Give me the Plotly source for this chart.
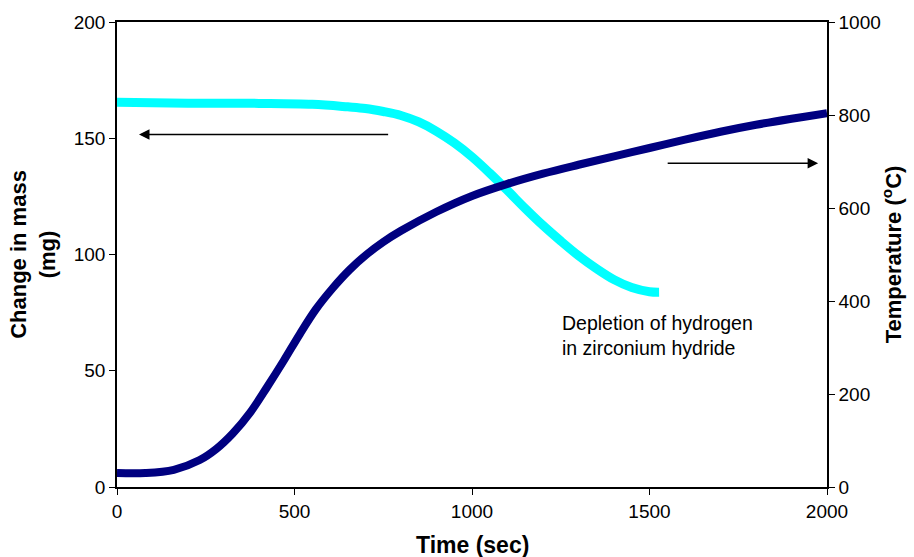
import plotly.graph_objects as go

# Mass change (left axis, mg)
mass_time = [0, 200, 400, 550, 650, 700, 750, 800, 850, 900, 950, 1000, 1050, 1100, 1150, 1200, 1250, 1300, 1350, 1400, 1450, 1500, 1527]
mass_mg = [165.5, 165.1, 165.0, 164.6, 163.5, 162.8, 161.5, 159.8, 157.0, 153.0, 148.0, 142.0, 135.0, 127.5, 119.8, 112.5, 105.8, 99.5, 94.0, 89.2, 85.8, 84.0, 83.8]

# Temperature (right axis, deg C)
temp_time = [0, 80, 160, 233, 280, 326, 375, 422, 470, 515, 560, 608, 655, 703, 750, 800, 900, 1000, 1100, 1200, 1300, 1400, 1500, 1600, 1700, 1800, 1900, 2000]
temp_c = [30, 30, 37, 58, 82, 115, 160, 214, 272, 329, 382, 428, 467, 500, 527, 551, 592, 626, 652, 674, 693, 711, 729, 747, 764, 779, 792, 804]

x_ticks = [0, 500, 1000, 1500, 2000]
y_ticks = [0, 50, 100, 150, 200]
y2_ticks = [0, 200, 400, 600, 800, 1000]

fig = go.Figure()
fig.add_trace(go.Scatter(x=temp_time, y=temp_c, yaxis="y2", mode="lines",
                         line=dict(color="#000080", width=8, shape="spline", smoothing=1.0), showlegend=False))
fig.add_trace(go.Scatter(x=mass_time, y=mass_mg, mode="lines",
                         line=dict(color="#00FFFF", width=9, shape="spline", smoothing=1.0), showlegend=False))

fig.update_layout(
    width=914, height=557,
    margin=dict(l=117, r=86, t=19, b=70),
    plot_bgcolor="white", paper_bgcolor="white",
    font=dict(family="Arial, Liberation Sans, sans-serif", size=19, color="black"),
    xaxis=dict(range=[0, 2000], tickvals=x_ticks, showline=True, linecolor="black", linewidth=1.5,
               mirror=True, ticks="outside", ticklen=6, tickcolor="black", showgrid=False, zeroline=False,
               automargin=False),
    yaxis=dict(range=[0, 200], tickvals=y_ticks, showline=True, linecolor="black", linewidth=1.5,
               ticks="outside", ticklen=6, tickcolor="black", showgrid=False, zeroline=False,
               title=dict(text="<b>Change in mass<br>(mg)</b>", font=dict(size=22), standoff=12)),
    yaxis2=dict(range=[0, 1000], tickvals=y2_ticks, overlaying="y", side="right", showline=True,
                linecolor="black", linewidth=1.5, ticks="outside", ticklen=6, tickcolor="black",
                showgrid=False, zeroline=False,
                title=dict(text="<b>Temperature (<sup>o</sup>C)</b>", font=dict(size=22), standoff=6)),
    annotations=[
        dict(x=0.5, y=-0.124, xref="paper", yref="paper", xanchor="center", yanchor="middle",
             showarrow=False, text="<b>Time (sec)</b>", font=dict(size=23)),
        dict(x=62, y=151.6, xref="x", yref="y", ax=768, ay=151.6, axref="x", ayref="y",
             showarrow=True, arrowhead=2, arrowsize=1.4, arrowwidth=1.5, arrowcolor="black", text=""),
        dict(x=1975, y=139.3, xref="x", yref="y", ax=1547, ay=139.3, axref="x", ayref="y",
             showarrow=True, arrowhead=2, arrowsize=1.4, arrowwidth=1.5, arrowcolor="black", text=""),
        dict(x=1249, y=65.2, xref="x", yref="y", xanchor="left", yanchor="middle", align="left",
             showarrow=False, text="Depletion of hydrogen<br>in zirconium hydride", font=dict(size=19.5)),
    ],
)

fig.write_html("out.html")
